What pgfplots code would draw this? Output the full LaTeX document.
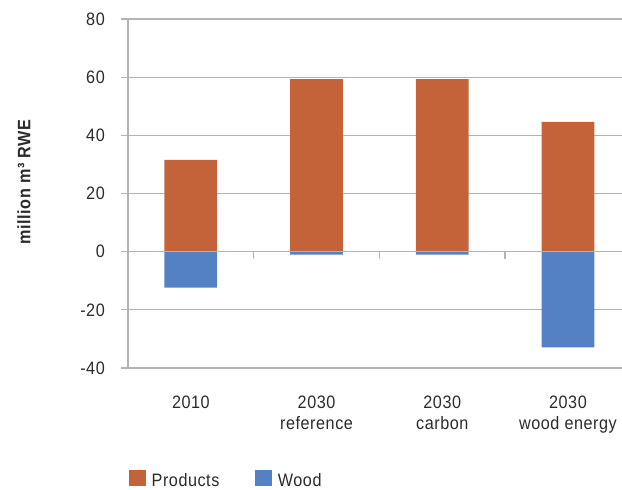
\documentclass[border=0pt]{standalone}
\usepackage{fontspec}
\setmainfont{Liberation Sans}[FakeStretch=0.9, LetterSpace=3]
\usepackage{pgfplots}
\pgfplotsset{compat=1.18}
\definecolor{products}{HTML}{C4623A}
\definecolor{wood}{HTML}{5480C4}
\definecolor{gridgray}{HTML}{B3B3B3}
\definecolor{txt}{HTML}{2B2B2B}
\begin{document}
\begin{tikzpicture}[font=\fontsize{18}{21}\selectfont, text=txt]
\begin{axis}[
  at={(0,0)}, anchor=south west,
  scale only axis, width=494pt, height=349pt,
  xmin=-0.5, xmax=3.43,
  ymin=-40, ymax=80,
  ytick={-40,-20,0,20,40,60,80},
  yticklabels={-40,-20,0,20,40,60,80},
  xtick={0,1,2,3},
  xticklabels={2010, 2030\\reference, 2030\\carbon, 2030\\wood energy},
  xticklabel style={align=center, anchor=north, inner sep=0pt, yshift=-21pt, font=\fontsize{18}{21}\selectfont},
  yticklabel style={anchor=east, inner sep=0pt, xshift=-16pt, font=\fontsize{18}{21}\selectfont},
  x axis line style={draw=none},
  axis y line*=left,
  axis line style={gridgray, line width=1.2pt},
  xtick style={draw=none},
  ytick style={gridgray, line width=1.2pt},
  tick align=outside,
  major tick length=7pt,
  ymajorgrids,
  grid style={gridgray, line width=1.2pt},
  ylabel={\bfseries million m³ RWE},
  ylabel style={at={(axis description cs:-0.2105,0.533)}, anchor=center, rotate=0, font=\fontsize{18}{21}\selectfont},
  ybar, bar width=0.42, bar shift=0pt,
  clip=false,
  legend columns=2,
  legend style={draw=none, fill=none, inner sep=0pt, at={(axis description cs:0.002,-0.3435)}, anchor=south west,
    font=\fontsize{18}{21}\selectfont, nodes={inner sep=0pt}},
  legend image code/.code={\fill[#1] (0pt,-6pt) rectangle (16.5pt,10pt);},
]
\addplot[fill=products, draw=none] coordinates {(0,31.6) (1,59.3) (2,59.3) (3,44.6)};
\addplot[fill=wood, draw=none] coordinates {(0,-12.4) (1,-1.0) (2,-1.0) (3,-32.9)};
\legend{\rule{6pt}{0pt}Products\rule{36pt}{0pt}, \rule{6pt}{0pt}Wood}
\draw[gridgray, line width=1.2pt] (axis cs:-0.5,0) -- (axis cs:3.43,0);
\draw[gridgray, line width=1.2pt] (axis cs:0.5,0) -- ([yshift=-7pt]axis cs:0.5,0);
\draw[gridgray, line width=1.2pt] (axis cs:1.5,0) -- ([yshift=-7pt]axis cs:1.5,0);
\draw[gridgray, line width=1.2pt] (axis cs:2.5,0) -- ([yshift=-7pt]axis cs:2.5,0);
\end{axis}
\pgfresetboundingbox
\path[use as bounding box] (-128pt,-122pt) rectangle (494pt,368pt);
\end{tikzpicture}
\end{document}
